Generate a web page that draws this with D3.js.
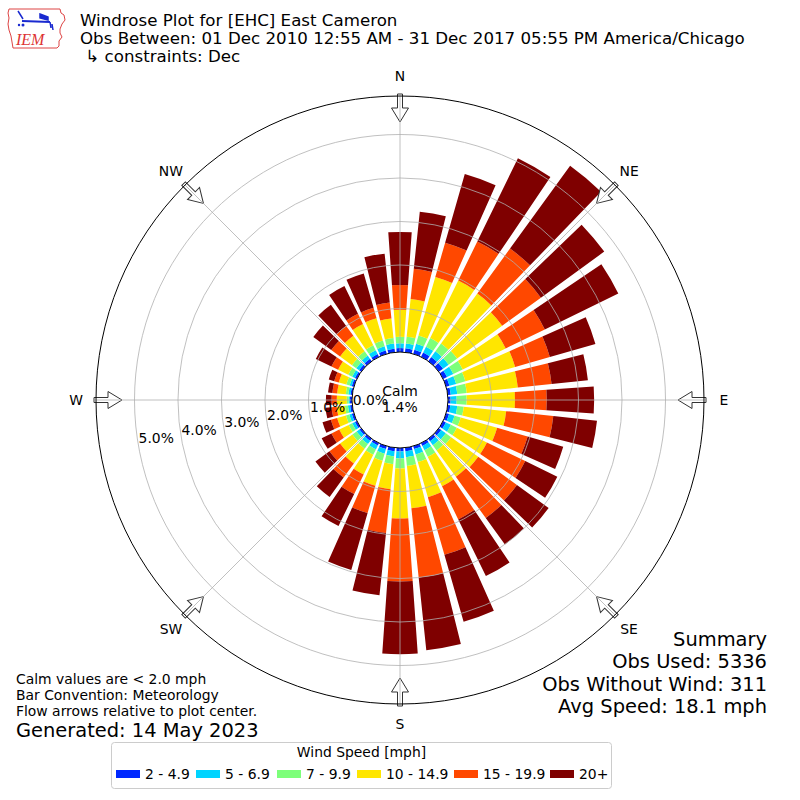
<!DOCTYPE html>
<html><head><meta charset="utf-8">
<script src="https://cdn.jsdelivr.net/npm/d3@7/dist/d3.min.js"></script>
<style>body{margin:0;background:#fff}svg{display:block}text{font-family:"DejaVu Sans",sans-serif;fill:#000;white-space:pre}</style>
</head><body><svg id="c" width="800" height="800"></svg>
<script>
// ---------------- data ----------------
const directions = [0,10,20,30,40,50,60,70,80,90,100,110,120,130,140,150,160,170,180,190,200,210,220,230,240,250,260,270,280,290,300,310,320,330,340,350];
const speedBins = ["2 - 4.9","5 - 6.9","7 - 9.9","10 - 14.9","15 - 19.9","20+"];
const binColors = ["#0028ff","#00d4ff","#7dff7a","#ffe600","#ff4800","#7f0000"];
// percent of observations per direction, per speed bin
const s2_5   = [.09,.09,.10,.11,.12,.12,.10,.08,.07,.06,.06,.07,.07,.07,.07,.07,.07,.08,.08,.08,.07,.06,.06,.05,.05,.05,.05,.05,.04,.05,.05,.06,.07,.07,.08,.08];
const s5_7   = [.11,.11,.14,.15,.16,.16,.16,.16,.15,.14,.16,.13,.13,.13,.11,.11,.13,.14,.16,.12,.11,.10,.09,.08,.07,.06,.05,.03,.05,.05,.07,.08,.09,.10,.10,.12];
const s7_10  = [.15,.16,.20,.22,.22,.24,.24,.22,.22,.23,.15,.15,.15,.15,.15,.17,.18,.20,.23,.18,.17,.14,.13,.12,.09,.08,.07,.04,.06,.08,.10,.12,.12,.13,.14,.13];
const s10_15 = [.62,.87,1.40,1.47,1.42,1.28,1.10,1.19,1.18,1.11,.98,.87,.77,.77,.75,.75,.84,.98,1.15,.58,.60,.50,.42,.35,.24,.21,.19,.23,.20,.18,.26,.34,.44,.54,.53,.45];
const s15_20 = [.57,.70,.82,1.00,1.28,1.10,1.00,.83,.78,.73,1.09,.73,.98,1.10,1.17,.85,1.38,1.60,1.45,1.01,.65,.50,.40,.30,.20,.15,.12,.12,.11,.11,.17,.25,.28,.26,.25,.37];
const s20p   = [1.22,1.32,1.64,2.13,2.35,1.80,1.88,1.09,.84,1.09,1.01,.85,.82,.90,.75,1.45,1.60,1.68,1.67,1.44,1.36,.82,.55,.40,.25,.20,.14,.13,.10,.13,.40,.51,.60,.71,.82,1.13];
const ringTicks = [0,1,2,3,4,5];
const compass = [["N",0],["NE",45],["E",90],["SE",135],["S",180],["SW",225],["W",270],["NW",315]];
const calmPct = "1.4%";
const titleLines = ["Windrose Plot for [EHC] East Cameron","Obs Between: 01 Dec 2010 12:55 AM - 31 Dec 2017 05:55 PM America/Chicago"," \u21b3 constraints: Dec"];
const notes = ["Calm values are < 2.0 mph","Bar Convention: Meteorology","Flow arrows relative to plot center."];
const generated = "Generated: 14 May 2023";
const summary = ["Summary","Obs Used: 5336","Obs Without Wind: 311","Avg Speed: 18.1 mph"];

// ---------------- drawing ----------------
const svg = d3.select("#c");
const cx = 400, cy = 400;
const FS = 13.9, FT = 16.67, FL = 19.44;
const series = [s2_5,s5_7,s7_10,s10_15,s15_20,s20p];
const r = d3.scaleLinear().domain([0,5.885]).range([48,304]);
const rad = d => d*Math.PI/180;
const g = svg.append("g").attr("transform",`translate(${cx},${cy})`);

// bars
const stacks = directions.map((dir,i)=>{
  let acc = 0;
  return series.map((s,k)=>{ const y0=acc; acc+=s[i]; return {dir, y0, y1:acc, k}; });
}).flat();
const arc = d3.arc()
  .innerRadius(d=>r(d.y0)).outerRadius(d=>r(d.y1))
  .startAngle(d=>rad(d.dir-4)).endAngle(d=>rad(d.dir+4));
g.append("g").selectAll("path").data(stacks).join("path")
  .attr("d",arc).attr("fill",d=>binColors[d.k]);

// compass arrows (under gridlines)
const arrowPath = "M-2.5,-306 L2.5,-306 L2.5,-292 L8.5,-292 L0,-278 L-8.5,-292 L-2.5,-292 Z";
g.append("g").selectAll("path").data(compass).join("path")
  .attr("d",arrowPath).attr("transform",d=>`rotate(${d[1]})`)
  .attr("fill","#fff").attr("stroke","#333").attr("stroke-width",1);

// gridlines
const grid = g.append("g").attr("fill","none").attr("stroke","#b0b0b0").attr("stroke-width",0.8);
grid.selectAll("circle").data(ringTicks.filter(t=>t>0)).join("circle").attr("r",d=>r(d));
grid.selectAll("line").data(compass).join("line")
  .attr("x1",d=>r(0)*Math.sin(rad(d[1]))).attr("y1",d=>-r(0)*Math.cos(rad(d[1])))
  .attr("x2",d=>r.range()[1]*Math.sin(rad(d[1]))).attr("y2",d=>-r.range()[1]*Math.cos(rad(d[1])));

// outer frame and calm circle
g.append("circle").attr("r",r.range()[1]).attr("fill","none").attr("stroke","#000").attr("stroke-width",1);
g.append("circle").attr("r",r(0)).attr("fill","#fff").attr("stroke","#000").attr("stroke-width",1);
g.append("text").attr("x",0).attr("y",-4).attr("text-anchor","middle").attr("font-size",FS).text("Calm");
g.append("text").attr("x",0).attr("y",12).attr("text-anchor","middle").attr("font-size",FS).text(calmPct);

// radial labels at 260 deg
const la = rad(260);
g.append("g").selectAll("text").data(ringTicks).join("text")
  .attr("x",d=>r(d)*Math.sin(la)).attr("y",d=>-r(d)*Math.cos(la)-3.5)
  .attr("font-size",FS).text(d=>d.toFixed(1)+"%");

// compass labels
g.append("g").selectAll("text").data(compass).join("text")
  .attr("x",d=>324*Math.sin(rad(d[1]))).attr("y",d=>-324*Math.cos(rad(d[1])))
  .attr("dy","0.36em").attr("text-anchor","middle").attr("font-size",FS).text(d=>d[0]);

// title
svg.append("g").selectAll("text").data(titleLines).join("text")
  .attr("x",80).attr("y",(d,i)=>26+i*17.8).attr("font-size",FT).text(d=>d);

// logo
const logo = svg.append("g");
logo.append("path").attr("d","M9,9 L60,9 L61,13 L64,15 L65,20 L62,24 L60,29 L60,33 L62,37 L59,41 L59,46 L57,48 L13,48 L12,42 L11,36 L9,30 L8,24 L9,18 L8,13 Z")
  .attr("fill","none").attr("stroke","#d44").attr("stroke-width",1);
logo.append("path").attr("d","M22,21 L50,22").attr("stroke","#1a2ad0").attr("stroke-width",2);
logo.append("path").attr("d","M18,11 L23,19 M40,14 L48,17 L48,20 L40,18 Z M50,22 L51,28 M52,24 L53,30").attr("stroke","#1a2ad0").attr("stroke-width",1.5).attr("fill","#1a2ad0");
logo.append("circle").attr("cx",23).attr("cy",25).attr("r",1.5).attr("fill","#1a2ad0");
logo.append("circle").attr("cx",19).attr("cy",25).attr("r",1.2).attr("fill","#1a2ad0");
logo.append("text").attr("x",16).attr("y",45).attr("font-size",16).attr("font-style","italic")
  .style("font-family","'Liberation Serif','DejaVu Serif',serif").style("fill","#d33").text("IEM");

// notes
svg.append("g").selectAll("text").data(notes).join("text")
  .attr("x",16).attr("y",(d,i)=>683.5+i*16).attr("font-size",FS).text(d=>d);
svg.append("text").attr("x",16).attr("y",737).attr("font-size",FL).text(generated);

// summary
svg.append("g").selectAll("text").data(summary).join("text")
  .attr("x",767).attr("y",(d,i)=>646+i*22.3).attr("text-anchor","end").attr("font-size",FL).text(d=>d);

// legend
const lg = svg.append("g");
lg.append("rect").attr("x",111.5).attr("y",742.5).attr("width",500).attr("height",46).attr("rx",3)
  .attr("fill","#fff").attr("stroke","#ccc").attr("stroke-width",1);
lg.append("text").attr("x",361.5).attr("y",757).attr("text-anchor","middle").attr("font-size",FS).text("Wind Speed [mph]");
const itemX = d3.scaleOrdinal().domain(speedBins).range([116,196,277,357,454,550]);
const items = lg.selectAll("g.it").data(speedBins).join("g").attr("class","it")
  .attr("transform",d=>`translate(${itemX(d)},0)`);
items.append("rect").attr("x",0).attr("y",770).attr("width",24).attr("height",8).attr("fill",(d,i)=>binColors[i]);
items.append("text").attr("x",29).attr("y",779).attr("font-size",FS).text(d=>d);
</script></body></html>
